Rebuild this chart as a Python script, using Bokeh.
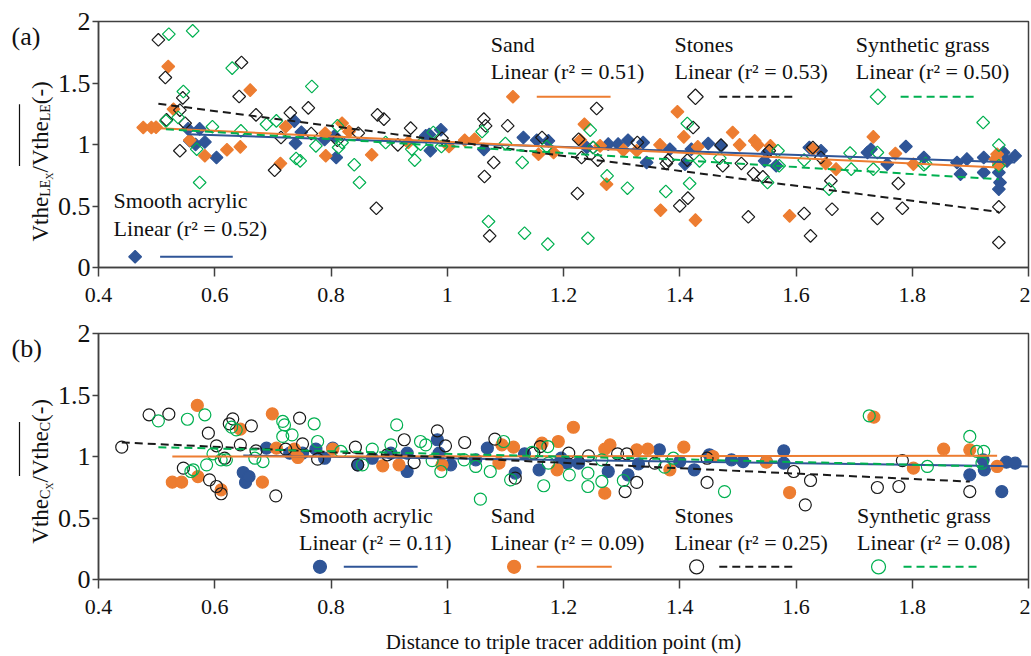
import numpy as np
from bokeh.plotting import figure
from bokeh.models import Range1d, FixedTicker, PrintfTickFormatter, Label
from bokeh.layouts import column, row
from bokeh.embed import file_html
from bokeh.resources import INLINE
from bokeh.core.properties import value

FONT = "serif"
AXC = "#404040"
TXT = "#111111"

# ---------------- data: panel (a) Vthe_LEx / mean Vthe_LE ----------------
series_names = ["Smooth acrylic", "Sand", "Stones", "Synthetic grass"]
colors = ["#2F5597", "#ED7D31", "#1a1a1a", "#00B050"]

a_smooth_x = [0.554, 0.574, 0.557, 0.567, 0.583, 0.603, 0.737, 0.739, 0.749, 0.789, 0.806, 0.809, 0.963, 0.969,
              0.971, 0.989, 1.063, 1.131, 1.154, 1.174, 1.24, 1.277, 1.294, 1.311, 1.337, 1.343, 1.383, 1.409, 1.42,
              1.449, 1.471, 1.546, 1.551, 1.566, 1.623, 1.643, 1.723, 1.729, 1.757, 1.789, 1.82, 1.877, 1.883, 1.894,
              1.923, 1.923, 1.949, 1.951, 1.949, 1.957, 1.963, 1.977]
a_smooth_y = [1.127, 1.127, 1.03, 1.0, 1.02, 0.894, 1.19, 1.01, 1.10, 1.04, 1.07, 0.894, 1.07, 1.08, 0.95, 1.12,
              0.96, 1.057, 1.035, 1.03, 0.976, 1.003, 1.003, 1.035, 1.016, 0.854, 0.962, 0.84, 0.962, 1.008, 0.989,
              0.867, 0.935, 0.827, 0.976, 0.949, 0.935, 0.962, 0.84, 0.984, 0.894, 0.854, 0.759, 0.881, 0.894, 0.772,
              0.772, 0.691, 0.637, 0.935, 0.867, 0.908]

a_sand_x = [0.477, 0.491, 0.499, 0.52, 0.529, 0.557, 0.583, 0.621, 0.644, 0.661, 0.713, 0.722, 0.79, 0.791, 0.819,
            0.831, 0.87, 0.933, 1.003, 1.03, 1.047, 1.157, 1.183, 1.229, 1.236, 1.263, 1.274, 1.303, 1.326, 1.366,
            1.367, 1.396, 1.407, 1.427, 1.431, 1.491, 1.503, 1.529, 1.534, 1.556, 1.589, 1.629, 1.651, 1.669, 1.733,
            1.771, 1.802, 1.943, 1.946, 1.949]
a_sand_y = [1.138, 1.138, 1.14, 1.634, 1.287, 1.035, 0.908, 0.957, 0.981, 1.442, 0.846, 1.144, 1.092, 0.908, 1.173,
            1.106, 0.916, 1.016, 0.984, 1.035, 1.043, 0.921, 0.935, 1.035, 1.165, 0.989, 0.677, 0.954, 0.949, 0.997,
            0.466, 1.266, 1.062, 0.385, 0.981, 1.098, 0.997, 1.03, 0.997, 0.989, 0.42, 0.962, 0.846, 0.8, 1.062,
            0.927, 0.84, 0.881, 0.921, 0.84]

a_stones_x = [0.503, 0.515, 0.517, 0.54, 0.54, 0.545, 0.549, 0.642, 0.646, 0.671, 0.703, 0.714, 0.73, 0.761, 0.766,
              0.811, 0.847, 0.878, 0.88, 0.891, 0.915, 0.937, 0.991, 1.063, 1.064, 1.066, 1.073, 1.08, 1.104, 1.163,
              1.224, 1.226, 1.231, 1.251, 1.257, 1.259, 1.327, 1.377, 1.38, 1.4, 1.413, 1.414, 1.423, 1.471, 1.474,
              1.506, 1.518, 1.527, 1.543, 1.554, 1.614, 1.625, 1.629, 1.643, 1.66, 1.662, 1.74, 1.776, 1.783, 1.949,
              1.949]
a_stones_y = [1.851, 1.545, 1.2, 1.279, 0.949, 1.379, 1.173, 1.39, 1.667, 1.241, 0.791, 1.057, 1.257, 1.298, 1.089,
              1.035, 1.092, 0.482, 1.241, 1.206, 0.997, 1.133, 1.051, 1.206, 0.74, 1.152, 0.257, 0.854, 1.152, 1.057,
              0.602, 1.043, 0.894, 0.976, 1.293, 0.873, 1.016, 0.846, 0.873, 0.501, 0.873, 0.564, 1.138, 0.995, 0.827,
              0.846, 0.412, 0.764, 0.737, 0.949, 0.439, 0.257, 0.976, 0.894, 0.705, 0.474, 0.398, 0.683, 0.482, 0.493,
              0.203]

a_grass_x = [0.516, 0.521, 0.537, 0.546, 0.562, 0.569, 0.574, 0.596, 0.63, 0.645, 0.689, 0.706, 0.74, 0.747, 0.767,
             0.774, 0.811, 0.813, 0.819, 0.84, 0.849, 0.894, 0.939, 0.944, 0.954, 0.976, 0.99, 1.06, 1.071, 1.1,
             1.129, 1.133, 1.171, 1.173, 1.242, 1.246, 1.251, 1.275, 1.31, 1.376, 1.413, 1.417, 1.434, 1.469, 1.551,
             1.569, 1.571, 1.614, 1.657, 1.693, 1.695, 1.733, 1.74, 1.82, 1.823, 1.922, 1.949, 1.949]
a_grass_y = [1.192, 1.897, 1.22, 1.431, 1.924, 0.962, 0.691, 1.144, 1.621, 1.111, 1.165, 1.192, 0.886, 0.867, 1.472,
             0.989, 1.152, 0.976, 1.016, 0.835, 0.691, 1.016, 0.962, 0.873, 1.003, 1.098, 0.984, 1.106, 0.374, 1.008,
             0.854, 0.279, 0.984, 0.19, 0.238, 1.117, 0.976, 0.745, 0.645, 0.618, 1.171, 0.683, 0.867, 0.889, 0.691,
             0.949, 0.827, 0.873, 0.637, 0.93, 0.8, 0.8, 0.935, 0.835, 0.846, 1.179, 0.995, 0.827]

# linear trend lines (slope, intercept, x start, x end) per series
a_fit_slope = [-0.162, -0.221, -0.608, -0.284]
a_fit_intercept = [1.174, 1.243, 1.637, 1.271]
a_fit_x0 = [0.554, 0.477, 0.503, 0.516]
a_fit_x1 = [1.977, 1.949, 1.949, 1.949]
a_r2 = ["0.52", "0.51", "0.53", "0.50"]

# ---------------- data: panel (b) Vthe_Cx / mean Vthe_C ----------------
b_smooth_x = [0.649, 0.653, 0.659, 0.689, 0.729, 0.751, 0.774, 0.789, 0.803, 0.846, 0.871, 0.903, 0.931, 0.931,
              0.983, 0.986, 1.006, 1.049, 1.069, 1.117, 1.133, 1.158, 1.196, 1.206, 1.226, 1.277, 1.311, 1.329,
              1.365, 1.4, 1.425, 1.451, 1.489, 1.509, 1.549, 1.579, 1.579, 1.899, 1.922, 1.924, 1.954, 1.962, 1.977]
b_smooth_y = [0.87, 0.789, 0.837, 1.068, 1.027, 1.027, 1.06, 0.986, 1.068, 0.932, 0.986, 1.027, 0.878, 1.027, 1.136,
              1.027, 0.932, 0.973, 1.068, 0.865, 1.022, 0.892, 0.986, 0.946, 0.946, 0.878, 0.851, 0.94, 1.054, 0.959,
              0.892, 1.014, 0.973, 0.959, 0.959, 1.046, 0.946, 0.851, 0.973, 0.892, 0.715, 0.954, 0.946]

b_sand_x = [0.527, 0.543, 0.57, 0.571, 0.611, 0.644, 0.682, 0.699, 0.706, 0.737, 0.743, 0.803, 0.889, 0.917, 0.991,
            1.089, 1.094, 1.114, 1.163, 1.189, 1.191, 1.217, 1.271, 1.271, 1.28, 1.326, 1.345, 1.383, 1.407, 1.457,
            1.549, 1.589, 1.734, 1.802, 1.854, 1.899, 1.946]
b_sand_y = [0.791, 0.791, 1.415, 0.837, 0.729, 1.222, 0.791, 1.347, 1.068, 1.06, 0.992, 1.06, 0.924, 0.932, 0.932,
            0.946, 1.095, 1.076, 1.108, 0.892, 1.122, 1.238, 1.06, 0.702, 1.095, 1.054, 1.06, 0.892, 1.076, 1.0,
            0.954, 0.707, 1.32, 0.905, 1.06, 1.054, 0.919]

b_stones_x = [0.44, 0.487, 0.521, 0.546, 0.589, 0.591, 0.603, 0.603, 0.611, 0.617, 0.625, 0.631, 0.644, 0.663,
              0.671, 0.705, 0.722, 0.746, 0.751, 0.777, 0.842, 0.846, 0.897, 0.926, 0.943, 0.983, 0.997, 1.03, 1.082,
              1.117, 1.149, 1.16, 1.209, 1.243, 1.293, 1.306, 1.309, 1.326, 1.357, 1.447, 1.447, 1.596, 1.616, 1.625,
              1.74, 1.777, 1.783, 1.899]
b_stones_y = [1.076, 1.339, 1.344, 0.905, 1.19, 0.81, 0.756, 1.087, 0.697, 0.986, 1.266, 1.306, 1.095, 1.249, 1.046,
              0.68, 1.06, 1.312, 1.103, 0.978, 1.076, 0.932, 1.014, 1.136, 0.951, 1.209, 1.087, 1.114, 1.141, 0.824,
              1.027, 1.081, 1.027, 1.005, 1.022, 0.715, 1.022, 0.789, 0.946, 0.986, 0.789, 0.878, 0.607, 0.805, 0.748,
              0.756, 0.967, 0.715]

b_grass_x = [0.503, 0.553, 0.559, 0.563, 0.583, 0.586, 0.597, 0.611, 0.62, 0.629, 0.637, 0.669, 0.683, 0.717, 0.717,
             0.72, 0.733, 0.771, 0.777, 0.817, 0.854, 0.871, 0.903, 0.913, 0.954, 0.963, 0.974, 0.989, 1.029, 1.049,
             1.057, 1.074, 1.097, 1.109, 1.146, 1.166, 1.173, 1.174, 1.21, 1.242, 1.242, 1.266, 1.266, 1.303, 1.374,
             1.389, 1.477, 1.726, 1.826, 1.899, 1.911, 1.92, 1.923]
b_grass_y = [1.29, 1.303, 0.878, 0.892, 1.339, 0.932, 1.022, 0.973, 0.973, 1.239, 1.217, 0.986, 0.959, 1.285, 1.163,
             1.257, 1.176, 1.266, 1.122, 1.041, 0.932, 1.06, 1.095, 1.257, 1.122, 1.095, 0.967, 0.878, 0.973, 0.919,
             0.653, 0.878, 1.122, 0.81, 1.033, 0.762, 1.081, 0.946, 0.851, 0.865, 0.756, 0.797, 0.973, 0.805, 0.913,
             0.986, 0.715, 1.331, 0.919, 1.163, 1.041, 0.946, 1.041]

b_fit_slope = [-0.066, 0.005, -0.218, -0.110]
b_fit_intercept = [1.051, 0.997, 1.210, 1.131]
b_fit_x0 = [0.649, 0.527, 0.44, 0.503]
b_fit_x1 = [2.0, 1.946, 1.899, 1.923]
b_r2 = ["0.11", "0.09", "0.25", "0.08"]

x_ticks = [0.4, 0.6, 0.8, 1.0, 1.2, 1.4, 1.6, 1.8, 2.0]
y_ticks = [0, 0.5, 1.0, 1.5, 2.0]
x_title = "Distance to triple tracer addition point (m)"

dashes = ["solid", "solid", "8 5", "8 5"]

# ---------------- layout constants (page pixels) ----------------
LAB_W = 54
FIG_W = 976
BORDER_L = 41
BORDER_R = 2
FRAME_H = 246
A_TOP, A_BOT = 21, 46
A_H = A_TOP + FRAME_H + A_BOT          # 313
B_TOP = 333 - A_H
B_H = 656 - A_H
B_BOT = B_H - B_TOP - FRAME_H


def style_axes(p):
    p.grid.visible = False
    p.outline_line_color = AXC
    p.outline_line_width = 1.5
    p.xaxis.ticker = FixedTicker(ticks=x_ticks)
    p.yaxis.ticker = FixedTicker(ticks=y_ticks)
    p.xaxis.formatter = PrintfTickFormatter(format="%g")
    p.yaxis.formatter = PrintfTickFormatter(format="%g")
    for ax in (p.xaxis[0], p.yaxis[0]):
        ax.axis_line_color = AXC
        ax.axis_line_width = 1.5
        ax.major_tick_line_color = AXC
        ax.major_tick_line_width = 1.5
        ax.major_tick_in = 0
        ax.minor_tick_line_color = None
        ax.major_label_text_color = TXT
        ax.major_label_text_font = FONT
    p.xaxis.major_tick_out = 9
    p.xaxis.major_label_standoff = 11
    p.xaxis.major_label_text_font_size = "22px"
    p.yaxis.major_tick_out = 6
    p.yaxis.major_label_standoff = 2
    p.yaxis.major_label_text_font_size = "26px"


def make_panel(height, top, bottom, xs, ys, marker, slopes, intercepts, x0s, x1s, r2s, leg_pos):
    p = figure(width=FIG_W, height=height, x_range=Range1d(0.4, 2.0), y_range=Range1d(0, 2),
               output_backend="svg", toolbar_location=None,
               min_border_left=BORDER_L, min_border_right=BORDER_R, min_border_top=top, min_border_bottom=bottom)
    style_axes(p)
    for i in range(4):
        c = colors[i]
        filled = i < 2
        if marker == "diamond":
            p.scatter(xs[i], ys[i], marker="square", angle=np.pi / 4, size=9,
                      fill_color=c if filled else None, line_color=c, line_width=1.2)
        else:
            p.scatter(xs[i], ys[i], marker="circle", size=12,
                      fill_color=c if filled else None, line_color=c, line_width=1.2)
    for i in range(4):
        fx = np.array([x0s[i], x1s[i]])
        fy = slopes[i] * fx + intercepts[i]
        p.line(fx, fy, line_color=colors[i], line_width=2, line_dash=dashes[i])

    # legend blocks (text above, marker + line key below)
    for i in range(4):
        tx, ty1, ty2, ky, mx, lx0, lx1 = leg_pos[i]
        c = colors[i]
        filled = i < 2
        p.add_layout(Label(x=tx, y=ty1, text=series_names[i], text_font=FONT, text_font_size="22px",
                           text_align="left", text_baseline="middle", text_color=TXT))
        p.add_layout(Label(x=tx, y=ty2, text="Linear (r\u00b2 = " + r2s[i] + ")", text_font=FONT,
                           text_font_size="22px", text_align="left", text_baseline="middle", text_color=TXT))
        if marker == "diamond":
            p.scatter([mx], [ky], marker="square", angle=np.pi / 4, size=9 if filled else 11,
                      fill_color=c if filled else None, line_color=c, line_width=1.2)
        else:
            p.scatter([mx], [ky], marker="circle", size=13 if filled else 14,
                      fill_color=c if filled else None, line_color=c, line_width=1.2)
        p.line([lx0, lx1], [ky, ky], line_color=c, line_width=2, line_dash=dashes[i])
    return p


def label_fig(height, ytop, top, bottom, tag, sub_text, center_y):
    # narrow figure placed left of a panel; a row aligns its frame with the panel's frame,
    # so its frame spans page y [ytop+top, ytop+height-bottom]; data x = page x, data y = -(page y)
    f_top = ytop + top
    f_bot = ytop + height - bottom
    lf = figure(width=LAB_W, height=height, x_range=Range1d(0, LAB_W), y_range=Range1d(-f_bot, -f_top),
                output_backend="svg", toolbar_location=None,
                min_border_left=0, min_border_right=0, min_border_top=top, min_border_bottom=bottom,
                x_axis_location=None, y_axis_location=None)
    lf.grid.visible = False
    lf.outline_line_color = None
    lf.text(x=[11], y=[-(f_top + 0.5)], text=[tag], text_font=value(FONT), text_font_size="26px",
            text_align="left", text_baseline="top", text_color=TXT)
    S, s1, s2 = 23, 14, 10
    sub_w = {"LE": 1.222, "C": 0.667}[sub_text]
    pieces = [("Vthe", S, 0, 1.944), (sub_text, s1, 5, sub_w), ("X", s2, 9, 0.722), ("/", S, 0, 0.278),
              ("Vthe", S, 0, 1.944), (sub_text, s1, 5, sub_w), (" (-)", S, 0, 1.249)]
    total = sum(sz * w for _, sz, _, w in pieces)
    y = center_y + total / 2
    base = 40
    over = []
    for k, (t, sz, off, w) in enumerate(pieces):
        lf.text(x=[base + off], y=[-y], text=[t], angle=np.pi / 2, text_font=value(FONT),
                text_font_size=f"{sz}px", text_align="left", text_baseline="alphabetic", text_color=TXT)
        if k in (4, 5):
            over.append((y, y - sz * w))
        y -= sz * w
    lf.segment(x0=[base - 21], y0=[-over[0][0]], x1=[base - 21], y1=[-over[-1][1]],
               line_color=TXT, line_width=1.2)
    return lf


a_leg = [
    (0.426, 0.542, 0.315, 0.087, 0.463, 0.506, 0.631),
    (1.075, 1.811, 1.591, 1.388, 1.113, 1.154, 1.281),
    (1.391, 1.811, 1.591, 1.388, 1.427, 1.468, 1.597),
    (1.703, 1.811, 1.591, 1.388, 1.741, 1.780, 1.912),
]
b_leg = [
    (0.745, 0.517, 0.298, 0.103, 0.781, 0.822, 0.949),
    (1.075, 0.517, 0.298, 0.103, 1.115, 1.154, 1.283),
    (1.391, 0.517, 0.298, 0.103, 1.429, 1.468, 1.600),
    (1.705, 0.517, 0.298, 0.103, 1.742, 1.785, 1.912),
]

pa = make_panel(A_H, A_TOP, A_BOT,
                [a_smooth_x, a_sand_x, a_stones_x, a_grass_x],
                [a_smooth_y, a_sand_y, a_stones_y, a_grass_y],
                "diamond", a_fit_slope, a_fit_intercept, a_fit_x0, a_fit_x1, a_r2, a_leg)
pb = make_panel(B_H, B_TOP, B_BOT,
                [b_smooth_x, b_sand_x, b_stones_x, b_grass_x],
                [b_smooth_y, b_sand_y, b_stones_y, b_grass_y],
                "circle", b_fit_slope, b_fit_intercept, b_fit_x0, b_fit_x1, b_r2, b_leg)
pb.xaxis.axis_label = x_title
pb.xaxis.axis_label_text_font = FONT
pb.xaxis.axis_label_text_font_size = "21px"
pb.xaxis.axis_label_text_font_style = "normal"
pb.xaxis.axis_label_text_color = TXT
pb.xaxis.axis_label_standoff = 13

la = label_fig(A_H, 0, A_TOP, A_BOT, "(a)", "LE", 158)
lb = label_fig(B_H, A_H, B_TOP, B_BOT, "(b)", "C", 468)

layout = column(row(la, pa), row(lb, pb))
open("out.html", "w").write(file_html(layout, INLINE))
